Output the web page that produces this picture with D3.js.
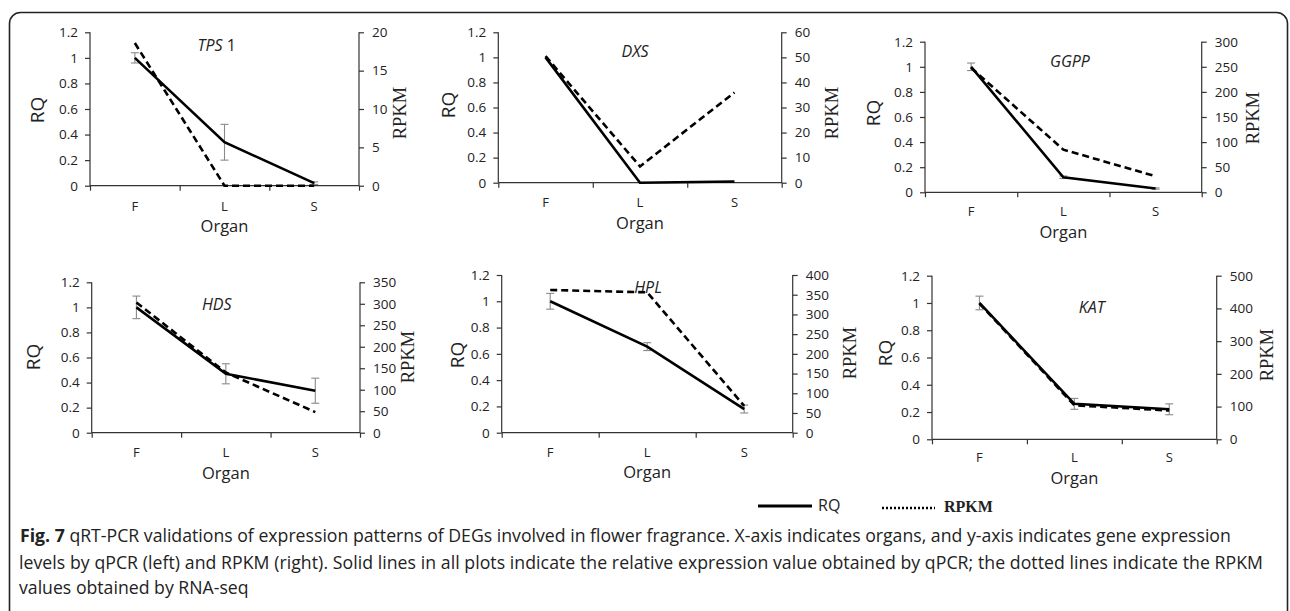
<!DOCTYPE html>
<html><head><meta charset="utf-8">
<script src="https://cdn.jsdelivr.net/npm/d3@7"></script>
<style>body{margin:0;background:#fff}svg{display:block}</style>
</head><body>
<svg id="c" width="1290" height="611"></svg>
<script>
// ---------- DATA ----------
const organs = ["F", "L", "S"];
const genes = ["TPS", "DXS", "GGPP", "HDS", "HPL", "KAT"];
const geneSuffix = [" 1", "", "", "", "", ""];
const rqTicks = [0, 0.2, 0.4, 0.6, 0.8, 1, 1.2];
const rqValues = [
  [1.0, 0.34, 0.02],
  [1.0, 0.0, 0.01],
  [1.0, 0.12, 0.03],
  [1.0, 0.47, 0.335],
  [1.0, 0.655, 0.18],
  [1.0, 0.26, 0.22]
];
const rqErrors = [
  [0.04, 0.14, 0.01],
  [0.0, 0.0, 0.0],
  [0.03, 0.01, 0.005],
  [0.09, 0.08, 0.10],
  [0.06, 0.03, 0.03],
  [0.05, 0.04, 0.04]
];
const rpkmValues = [
  [18.6, 0, 0],
  [50.5, 6.5, 36],
  [248, 85, 32],
  [303, 140, 48],
  [362, 356, 68],
  [415, 104, 88]
];
const rpkmMax = [20, 60, 300, 350, 400, 500];
const rpkmStep = [5, 10, 50, 50, 50, 100];
const legendLabels = ["RQ", "RPKM"];
const captionBold = "Fig. 7";
const captionLines = [
  " qRT-PCR validations of expression patterns of DEGs involved in flower fragrance. X-axis indicates organs, and y-axis indicates gene expression",
  "levels by qPCR (left) and RPKM (right). Solid lines in all plots indicate the relative expression value obtained by qPCR; the dotted lines indicate the RPKM",
  "values obtained by RNA-seq"
];

// ---------- LAYOUT ----------
const layout = [
  {x0: 90, x1: 359, yb: 185.7, yt: 32.3, rq: [37, 110], rp: [400, 113], ti: [216.7, 50.7], cy: 210.5},
  {x0: 498.3, x1: 781.7, yb: 182.7, yt: 32.3, rq: [448, 105], rp: [831.7, 113], ti: [635, 56.7], cy: 207},
  {x0: 925, x1: 1201.7, yb: 192.3, yt: 41.7, rq: [873, 113], rp: [1253, 118], ti: [1070, 66.7], cy: 216},
  {x0: 91.7, x1: 360, yb: 432.7, yt: 282.3, rq: [33, 357], rp: [408, 357], ti: [216.7, 310], cy: 457},
  {x0: 501.7, x1: 792.7, yb: 432.7, yt: 275, rq: [457, 355], rp: [850, 353], ti: [648, 293], cy: 456.5},
  {x0: 932, x1: 1216.7, yb: 439.3, yt: 275.7, rq: [885, 353], rp: [1266.7, 355], ti: [1091.7, 313], cy: 462}
];
const organGap = 21.5;

const svg = d3.select("#c");
svg.append("rect").attr("width", 1290).attr("height", 611).attr("fill", "#fff");

svg.append("rect").attr("x", 9.5).attr("y", 12.5).attr("width", 1278).attr("height", 610)
  .attr("rx", 11).attr("fill", "none").attr("stroke", "#222").attr("stroke-width", 1.6);

const sans = "'Open Sans', 'DejaVu Sans', sans-serif";
const serif = "'Liberation Serif', 'Times New Roman', serif";
const axisColor = "#333";

genes.forEach((g, i) => {
  const L = layout[i];
  const gp = svg.append("g");
  const x = d3.scaleBand().domain(organs).range([L.x0, L.x1]).paddingInner(0).paddingOuter(0);
  const yL = d3.scaleLinear().domain([0, 1.2]).range([L.yb, L.yt]);
  const yR = d3.scaleLinear().domain([0, rpkmMax[i]]).range([L.yb, L.yt]);
  const rpTicks = d3.range(0, rpkmMax[i] + 0.001, rpkmStep[i]);

  const la = gp.append("g").attr("transform", `translate(${L.x0},0)`)
    .call(d3.axisLeft(yL).tickValues(rqTicks).tickSize(5).tickPadding(7).tickFormat(d => d3.format("~g")(d)));
  const ra = gp.append("g").attr("transform", `translate(${L.x1},0)`)
    .call(d3.axisRight(yR).tickValues(rpTicks).tickSize(5).tickPadding(8).tickFormat(d3.format("d")));
  const ba = gp.append("g").attr("transform", `translate(0,${L.yb})`)
    .call(d3.axisBottom(d3.scaleLinear().domain([0, 3]).range([L.x0, L.x1])).tickValues([0, 1, 2, 3]).tickSize(5).tickFormat(""));
  [la, ra, ba].forEach(a => {
    a.select(".domain").attr("stroke", axisColor).attr("stroke-width", 1.2);
    a.selectAll(".tick line").attr("stroke", axisColor).attr("stroke-width", 1.2);
    a.selectAll("text").attr("font-family", sans).attr("font-size", 13.5).attr("fill", "#222");
  });
  ba.select(".domain").attr("d", `M${L.x0},0H${L.x1}`);
  la.select(".domain").attr("d", `M0,${L.yb}V${L.yt}`);
  ra.select(".domain").attr("d", `M0,${L.yb}V${L.yt}`);

  gp.selectAll(".cat").data(organs).join("text")
    .attr("x", d => x(d) + x.bandwidth() / 2).attr("y", L.cy)
    .attr("text-anchor", "middle").attr("font-family", sans).attr("font-size", 13).attr("fill", "#222")
    .text(d => d);
  gp.append("text").attr("x", (L.x0 + L.x1) / 2).attr("y", L.cy + organGap)
    .attr("text-anchor", "middle").attr("font-family", sans).attr("font-size", 16.5).attr("fill", "#222")
    .text("Organ");

  gp.append("text").attr("transform", `translate(${L.rq[0]},${L.rq[1]}) rotate(-90)`)
    .attr("text-anchor", "middle").attr("dominant-baseline", "central")
    .attr("font-family", sans).attr("font-size", 19).attr("fill", "#222").text("RQ");
  gp.append("text").attr("transform", `translate(${L.rp[0]},${L.rp[1]}) rotate(-90)`)
    .attr("text-anchor", "middle").attr("dominant-baseline", "central")
    .attr("font-family", serif).attr("font-size", 18.5).attr("fill", "#222").text("RPKM");

  const t = gp.append("text").attr("x", L.ti[0]).attr("y", L.ti[1]).attr("text-anchor", "middle")
    .attr("font-family", sans).attr("font-size", 16).attr("fill", "#222");
  t.append("tspan").attr("font-style", "italic").text(g);
  if (geneSuffix[i]) t.append("tspan").text(geneSuffix[i]);

  const cx = d => x(d) + x.bandwidth() / 2;

  const eb = gp.append("g").attr("stroke", "#8a8a8a").attr("stroke-width", 1.1);
  organs.forEach((o, k) => {
    const e = rqErrors[i][k];
    if (e <= 0) return;
    const v = rqValues[i][k];
    const X = cx(o);
    eb.append("line").attr("x1", X).attr("x2", X).attr("y1", yL(v - e)).attr("y2", yL(v + e));
    eb.append("line").attr("x1", X - 4).attr("x2", X + 4).attr("y1", yL(v - e)).attr("y2", yL(v - e));
    eb.append("line").attr("x1", X - 4).attr("x2", X + 4).attr("y1", yL(v + e)).attr("y2", yL(v + e));
  });

  gp.append("path").datum(rpkmValues[i])
    .attr("d", d3.line().x((d, k) => cx(organs[k])).y(d => yR(d)))
    .attr("fill", "none").attr("stroke", "#000").attr("stroke-width", 2.6).attr("stroke-dasharray", "7,4");
  gp.append("path").datum(rqValues[i])
    .attr("d", d3.line().x((d, k) => cx(organs[k])).y(d => yL(d)))
    .attr("fill", "none").attr("stroke", "#000").attr("stroke-width", 2.6);
});

// legend
const lg = svg.append("g");
lg.append("line").attr("x1", 758).attr("x2", 812).attr("y1", 506).attr("y2", 506).attr("stroke", "#000").attr("stroke-width", 3);
lg.append("text").attr("x", 818).attr("y", 511).attr("font-family", sans).attr("font-size", 16).attr("fill", "#222").text(legendLabels[0]);
lg.append("line").attr("x1", 882).attr("x2", 935).attr("y1", 508).attr("y2", 508).attr("stroke", "#000").attr("stroke-width", 2.5).attr("stroke-dasharray", "2,2");
lg.append("text").attr("x", 944).attr("y", 512).attr("font-family", serif).attr("font-weight", "bold").attr("font-size", 16).attr("fill", "#222").text(legendLabels[1]);

// caption: font size fitted so that line 1 spans the measured width
const capY = [542, 569, 594];
const capTexts = captionLines.map((line, k) => {
  const t = svg.append("text").attr("x", k === 0 ? 20 : 19).attr("y", capY[k])
    .attr("font-family", sans).attr("font-size", 15.5).attr("fill", "#222");
  if (k === 0) t.append("tspan").attr("font-weight", "bold").text(captionBold);
  t.append("tspan").text(line);
  return t;
});
const w1 = capTexts[0].node().getComputedTextLength();
const fs = Math.max(13, Math.min(18, 15.5 * 1212 / w1));
capTexts.forEach(t => t.attr("font-size", fs));
const w2 = capTexts[1].node().getComputedTextLength();
if (Math.abs(w2 - 1244) > 4) capTexts[1].attr("textLength", 1244).attr("lengthAdjust", "spacing");
</script>
</body></html>
